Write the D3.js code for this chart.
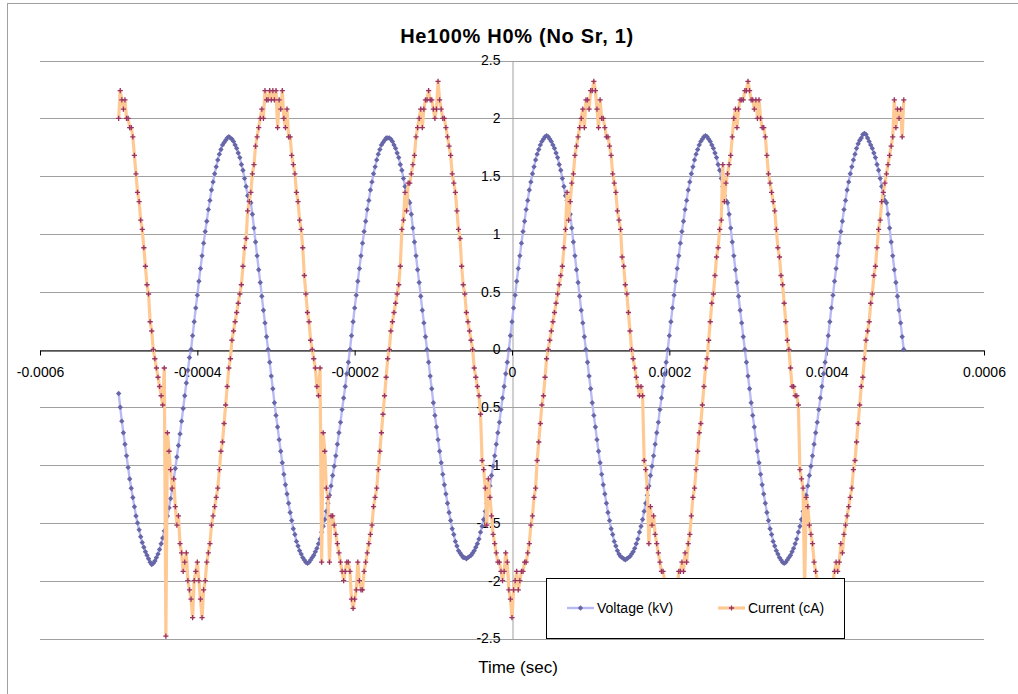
<!DOCTYPE html>
<html>
<head>
<meta charset="utf-8">
<script src="https://cdn.jsdelivr.net/npm/d3@7"></script>
<style>
  body { margin: 0; background: #fff; }
  text { font-family: Arial, "Liberation Sans", sans-serif; fill: #000; }
</style>
</head>
<body>
<svg id="chart" width="1018" height="694"></svg>
<script>
const chartTitle = 'He100% H0% (No Sr, 1)'
const xTitle = 'Time (sec)'
const seriesNames = ['Voltage (kV)', 'Current (cA)']

const xTicks = [-0.0006, -0.0004, -0.0002, 0, 0.0002, 0.0004, 0.0006]
const xTickLabels = ['-0.0006', '-0.0004', '-0.0002', '0', '0.0002', '0.0004', '0.0006']
const yTicks = [2.5, 2, 1.5, 1, 0.5, 0, -0.5, -1, -1.5, -2, -2.5]
const yTickLabels = ['2.5', '2', '1.5', '1', '0.5', '0', '-0.5', '-1', '-1.5', '-2', '-2.5']

// scope samples: first sample time and sample interval (sec)
const tStart = -0.0005
const tStep = 0.000002

// Voltage (kV), one value per sample
const voltage = [
  -0.38, -0.50, -0.62, -0.72, -0.82, -0.92, -1.02, -1.12, -1.20, -1.28,
  -1.36, -1.44, -1.50, -1.56, -1.62, -1.67, -1.71, -1.75, -1.78, -1.81,
  -1.84, -1.86, -1.85, -1.83, -1.80, -1.77, -1.73, -1.68, -1.63, -1.57,
  -1.51, -1.44, -1.37, -1.29, -1.21, -1.12, -1.03, -0.93, -0.83, -0.73,
  -0.62, -0.51, -0.40, -0.29, -0.18, -0.07,
  // cycle 1
  0.00, 0.12, 0.24, 0.36, 0.47, 0.59, 0.70, 0.81, 0.92, 1.02,
  1.11, 1.21, 1.29, 1.38, 1.45, 1.52, 1.58, 1.64, 1.69, 1.73,
  1.77, 1.79, 1.81, 1.83, 1.84, 1.83, 1.82, 1.80, 1.77, 1.74,
  1.70, 1.66, 1.60, 1.55, 1.48, 1.41, 1.33, 1.29, 1.27, 1.17,
  1.05, 0.93, 0.81, 0.69, 0.58, 0.46, 0.34, 0.23, 0.11, 0.00,
  -0.11, -0.23, -0.34, -0.46, -0.57, -0.67, -0.78, -0.88, -0.98, -1.08,
  -1.17, -1.25, -1.33, -1.41, -1.48, -1.55, -1.60, -1.66, -1.70, -1.74,
  -1.77, -1.80, -1.82, -1.84, -1.85, -1.84, -1.82, -1.80, -1.78, -1.75,
  -1.72, -1.68, -1.64, -1.58, -1.53, -1.47, -1.40, -1.33, -1.26, -1.18,
  -1.09, -1.01, -0.92, -0.82, -0.72, -0.63, -0.52, -0.42, -0.32, -0.21,
  -0.11,
  // cycle 2
  0.00, 0.12, 0.24, 0.36, 0.47, 0.59, 0.70, 0.81, 0.92, 1.02,
  1.11, 1.21, 1.29, 1.38, 1.45, 1.52, 1.58, 1.64, 1.69, 1.73,
  1.77, 1.79, 1.81, 1.83, 1.83, 1.83, 1.82, 1.80, 1.77, 1.74,
  1.70, 1.66, 1.60, 1.55, 1.48, 1.41, 1.33, 1.29, 1.27, 1.17,
  1.05, 0.93, 0.81, 0.69, 0.58, 0.46, 0.34, 0.23, 0.11, 0.00,
  -0.11, -0.23, -0.34, -0.46, -0.57, -0.67, -0.78, -0.88, -0.98, -1.08,
  -1.17, -1.25, -1.33, -1.41, -1.48, -1.55, -1.60, -1.66, -1.70, -1.74,
  -1.76, -1.78, -1.80, -1.80, -1.81, -1.80, -1.79, -1.78, -1.76, -1.74,
  -1.71, -1.68, -1.64, -1.58, -1.53, -1.47, -1.40, -1.33, -1.26, -1.18,
  -1.09, -1.01, -0.92, -0.82, -0.72, -0.63, -0.52, -0.42, -0.32, -0.21,
  -0.11,
  // cycle 3
  0.00, 0.12, 0.24, 0.36, 0.47, 0.59, 0.70, 0.81, 0.92, 1.02,
  1.11, 1.21, 1.29, 1.38, 1.45, 1.52, 1.58, 1.64, 1.69, 1.73,
  1.77, 1.80, 1.82, 1.84, 1.85, 1.84, 1.82, 1.80, 1.77, 1.74,
  1.70, 1.66, 1.60, 1.55, 1.48, 1.41, 1.33, 1.29, 1.27, 1.17,
  1.05, 0.93, 0.81, 0.69, 0.58, 0.46, 0.34, 0.23, 0.11, 0.00,
  -0.11, -0.23, -0.34, -0.46, -0.57, -0.67, -0.78, -0.88, -0.98, -1.08,
  -1.17, -1.25, -1.33, -1.41, -1.48, -1.55, -1.60, -1.66, -1.70, -1.74,
  -1.77, -1.79, -1.80, -1.81, -1.82, -1.81, -1.80, -1.79, -1.77, -1.75,
  -1.72, -1.68, -1.64, -1.58, -1.53, -1.47, -1.40, -1.33, -1.26, -1.18,
  -1.09, -1.01, -0.92, -0.82, -0.72, -0.63, -0.52, -0.42, -0.32, -0.21,
  -0.11,
  // cycle 4
  0.00, 0.12, 0.24, 0.36, 0.47, 0.59, 0.70, 0.81, 0.92, 1.02,
  1.11, 1.21, 1.29, 1.38, 1.45, 1.52, 1.58, 1.64, 1.69, 1.73,
  1.77, 1.80, 1.82, 1.84, 1.85, 1.84, 1.82, 1.80, 1.77, 1.74,
  1.70, 1.66, 1.60, 1.55, 1.48, 1.41, 1.33, 1.29, 1.27, 1.17,
  1.05, 0.93, 0.81, 0.69, 0.58, 0.46, 0.34, 0.23, 0.11, 0.00,
  -0.11, -0.23, -0.34, -0.46, -0.57, -0.67, -0.78, -0.88, -0.98, -1.08,
  -1.17, -1.25, -1.33, -1.41, -1.48, -1.55, -1.60, -1.66, -1.70, -1.74,
  -1.77, -1.80, -1.82, -1.84, -1.85, -1.84, -1.82, -1.80, -1.78, -1.75,
  -1.72, -1.68, -1.64, -1.58, -1.53, -1.47, -1.40, -1.33, -1.26, -1.18,
  -1.09, -1.01, -0.92, -0.82, -0.72, -0.63, -0.52, -0.42, -0.32, -0.21,
  -0.11,
  // last half cycle
  0.00, 0.12, 0.24, 0.36, 0.47, 0.59, 0.70, 0.81, 0.92, 1.02,
  1.11, 1.21, 1.29, 1.38, 1.45, 1.52, 1.58, 1.64, 1.69, 1.74,
  1.78, 1.81, 1.83, 1.86, 1.87, 1.86, 1.83, 1.80, 1.77, 1.74,
  1.70, 1.66, 1.60, 1.55, 1.48, 1.41, 1.33, 1.29, 1.27, 1.17,
  1.05, 0.93, 0.81, 0.69, 0.58, 0.46, 0.34, 0.23, 0.11, 0.00
]

// Current (cA), one value per sample (scope steps of 0.08)
const current = [
  2.00, 2.24, 2.16, 2.08, 2.16, 2.00, 2.00, 1.92, 1.92, 1.84,
  1.68, 1.52, 1.36, 1.28, 1.12, 1.04, 0.88, 0.72, 0.56, 0.48,
  0.24, 0.16, 0.00, -0.08, -0.16, -0.24, -0.32, -0.40, -0.48, -0.16,
  -2.48, -0.72, -0.88, -1.04, -1.20, -1.12, -1.36, -1.52, -1.44, -1.68,
  -1.76, -1.92, -1.84, -1.76, -2.00, -2.08, -2.16, -2.32, -2.00, -1.92,
  -1.84, -2.00, -2.16, -2.32, -2.08, -2.00, -1.84, -1.76, -1.68, -1.52,
  -1.44, -1.36, -1.28, -1.20, -1.04, -0.88, -0.80, -0.64, -0.48, -0.32,
  -0.16, -0.08,
  // cycle 1
  0.08, 0.16, 0.24, 0.32, 0.40, 0.48, 0.56, 0.72, 0.88, 0.96,
  1.20, 1.28, 1.36, 1.52, 1.60, 1.76, 1.84, 1.92, 2.00, 2.08,
  2.00, 2.24, 2.16, 2.16, 2.24, 2.16, 2.24, 2.16, 2.24, 1.92,
  2.16, 2.08, 2.24, 2.00, 1.92, 2.08, 1.84, 1.84, 1.68, 1.60,
  1.52, 1.36, 1.28, 1.12, 1.04, 0.88, 0.64, 0.48, 0.32, 0.24,
  0.08,
  0.00, -0.08, -0.16, -0.32, -0.40, -0.16, -1.84, -0.72, -0.88, -1.20,
  -1.28, -1.84, -1.44, -1.44, -1.52, -1.60, -1.68, -1.76, -1.84, -1.92,
  -2.00, -1.92, -1.84, -1.84, -1.92, -2.16, -2.24, -2.16, -2.08, -1.84,
  -2.00, -2.08, -2.08, -1.92, -1.84, -1.76, -1.68, -1.60, -1.52, -1.36,
  -1.28, -1.20, -1.04, -0.88, -0.72, -0.56, -0.40, -0.24, -0.08, 0.00,
  // cycle 2
  0.16, 0.24, 0.32, 0.40, 0.48, 0.56, 0.72, 1.04, 1.12, 1.36,
  1.20, 1.44, 1.44, 1.52, 1.60, 1.68, 1.84, 1.92, 2.00, 2.08,
  1.92, 2.08, 2.16, 2.16, 2.24, 2.16, 2.16, 2.08, 2.00, 2.08,
  2.32, 2.16, 2.08, 2.00, 2.00, 1.92, 1.84, 1.76, 1.68, 1.52,
  1.44, 1.36, 1.20, 1.04, 0.96, 0.72, 0.56, 0.48, 0.32, 0.24,
  0.16,
  0.08, 0.00, -0.16, -0.24, -0.32, -0.40, -0.56, -0.96, -1.04, -1.20,
  -1.52, -1.12, -1.28, -1.44, -1.60, -1.68, -1.76, -1.84, -1.84, -1.92,
  -2.00, -1.92, -1.76, -1.84, -2.08, -2.16, -2.32, -2.08, -2.00, -1.92,
  -2.08, -2.00, -1.92, -1.92, -1.84, -1.84, -1.76, -1.68, -1.52, -1.44,
  -1.28, -1.20, -0.96, -0.80, -0.64, -0.48, -0.40, -0.24, -0.08, 0.00,
  // cycle 3
  0.08, 0.16, 0.24, 0.32, 0.40, 0.48, 0.56, 0.64, 0.72, 0.88,
  1.04, 1.36, 1.12, 1.28, 1.44, 1.52, 1.68, 1.76, 1.84, 1.92,
  2.00, 2.08, 1.92, 2.16, 2.16, 2.08, 2.24, 2.24, 2.32, 2.24,
  2.08, 1.92, 2.16, 2.00, 2.00, 1.92, 1.84, 1.84, 1.76, 1.68,
  1.52, 1.44, 1.36, 1.20, 1.12, 1.04, 0.80, 0.72, 0.56, 0.48,
  0.32, 0.16,
  0.00, -0.08, -0.16, -0.24, -0.32, -0.40, -0.32, -0.40, -0.96, -1.04,
  -1.20, -1.68, -1.36, -1.52, -1.44, -1.60, -1.68, -1.76, -1.84, -1.92,
  -1.92, -2.00, -2.08, -2.16, -2.24, -2.16, -2.08, -2.16, -2.00, -2.08,
  -1.92, -1.92, -1.84, -1.92, -1.76, -1.84, -1.68, -1.60, -1.44, -1.28,
  -1.20, -1.04, -0.88, -0.72, -0.64, -0.48, -0.32, -0.16, -0.08,
  // cycle 4
  0.08, 0.24, 0.40, 0.48, 0.64, 0.80, 0.88, 1.04, 1.12, 1.60,
  1.28, 1.44, 1.52, 1.60, 1.68, 1.84, 2.00, 2.08, 1.92, 2.08,
  2.16, 2.16, 2.16, 2.24, 2.24, 2.32, 2.24, 2.16, 2.16, 2.08,
  2.16, 2.00, 2.16, 2.00, 1.92, 1.92, 1.84, 1.68, 1.52, 1.44,
  1.36, 1.28, 1.20, 1.04, 0.88, 0.80, 0.64, 0.56, 0.40, 0.24,
  0.08,
  0.00, -0.16, -0.32, -0.32, -0.40, -0.40, -0.48, -1.04, -1.12, -1.20,
  -2.08, -1.28, -1.36, -1.52, -1.60, -1.68, -1.84, -1.92, -2.00, -2.08,
  -2.16, -2.08, -2.24, -2.16, -2.08, -2.16, -2.00, -2.08, -2.00, -1.92,
  -1.84, -1.92, -1.84, -1.68, -1.76, -1.60, -1.52, -1.44, -1.36, -1.28,
  -1.20, -1.04, -0.96, -0.80, -0.64, -0.48, -0.32, -0.24, -0.08,
  // last rise
  0.08, 0.16, 0.24, 0.40, 0.48, 0.64, 0.72, 0.88, 1.04, 1.12,
  1.28, 1.36, 1.44, 1.52, 1.60, 1.68, 1.76, 1.84, 2.16, 1.92,
  2.08, 2.00, 2.08, 1.84, 2.16
]

const svg = d3.select('#chart')

const x = d3.scaleLinear().domain([-0.0006, 0.0006]).range([40, 984])
const y = d3.scaleLinear().domain([-2.5, 2.5]).range([638.5, 60.5])

// chart area border
svg.append('rect')
  .attr('x', 7.5).attr('y', 3.5)
  .attr('width', 1200).attr('height', 1000)
  .attr('fill', '#fff')
  .attr('stroke', '#a0a0a0')

svg.append('text')
  .attr('x', 517).attr('y', 43)
  .attr('text-anchor', 'middle')
  .style('font-size', '20px')
  .style('font-weight', 'bold')
  .style('letter-spacing', '0.7px')
  .text(chartTitle)

// horizontal gridlines
svg.append('g').selectAll('line')
  .data(yTicks)
  .enter().append('line')
  .attr('x1', 40).attr('x2', 984)
  .attr('y1', d => Math.round(y(d)) + 0.5)
  .attr('y2', d => Math.round(y(d)) + 0.5)
  .attr('stroke', '#a0a0a0')

// y axis (crosses at x = 0)
const yAxis = d3.axisLeft(y)
  .tickValues(yTicks)
  .tickSize(0)
  .tickPadding(12)
  .tickFormat((d, i) => yTickLabels[i])
const gy = svg.append('g')
  .attr('transform', 'translate(' + (Math.round(x(0)) + 0.5) + ',0)')
  .call(yAxis)
gy.select('.domain').attr('stroke', '#a0a0a0')
gy.selectAll('text').style('font-size', '14px').attr('font-family', null)

// x axis (crosses at y = 0)
const xAxis = d3.axisBottom(x)
  .tickValues(xTicks)
  .tickSize(5)
  .tickSizeOuter(0)
  .tickPadding(12)
  .tickFormat((d, i) => xTickLabels[i])
const gx = svg.append('g')
  .attr('transform', 'translate(0,' + (Math.round(y(0)) + 0.5) + ')')
  .call(xAxis)
gx.select('.domain').attr('stroke', '#000')
gx.selectAll('.tick line').attr('stroke', '#000')
gx.selectAll('text').style('font-size', '14px').attr('font-family', null)

svg.append('text')
  .attr('x', 518).attr('y', 673)
  .attr('text-anchor', 'middle')
  .style('font-size', '17px')
  .text(xTitle)

// data
svg.append('clipPath').attr('id', 'plot-clip')
  .append('rect').attr('x', 40).attr('y', 60).attr('width', 944).attr('height', 579)

const plot = svg.append('g').attr('clip-path', 'url(#plot-clip)')

const diamond = 'M0,-2.7L2.7,0L0,2.7L-2.7,0Z'
const plus = 'M-2.6,0H2.6M0,-2.6V2.6'

const series = [
  { name: seriesNames[0], values: voltage, line: '#b9b9f5', lineWidth: 2.4, marker: diamond, markerColor: '#6666a8', filled: true },
  { name: seriesNames[1], values: current, line: '#ffc994', lineWidth: 3.2, marker: plus, markerColor: '#993366', filled: false }
]

const line = d3.line()
  .x((d, i) => x(tStart + i * tStep))
  .y(d => y(d))

series.forEach(s => {
  plot.append('path')
    .datum(s.values)
    .attr('d', line)
    .attr('fill', 'none')
    .attr('stroke', s.line)
    .attr('stroke-width', s.lineWidth)
    .attr('stroke-linejoin', 'round')

  plot.append('g').selectAll('path')
    .data(s.values)
    .enter().append('path')
    .attr('transform', (d, i) => 'translate(' + x(tStart + i * tStep) + ',' + y(d) + ')')
    .attr('d', s.marker)
    .attr('fill', s.filled ? s.markerColor : 'none')
    .attr('stroke', s.filled ? 'none' : s.markerColor)
    .attr('stroke-width', 1.3)
})

// legend
const legend = svg.append('g')
legend.append('rect')
  .attr('x', 546.5).attr('y', 578.5)
  .attr('width', 298).attr('height', 60)
  .attr('fill', '#fff')
  .attr('stroke', '#000')

const legendX = [567, 718]
series.forEach((s, i) => {
  const lg = legend.append('g').attr('transform', 'translate(' + legendX[i] + ',608)')
  lg.append('line')
    .attr('x1', 0).attr('x2', 27)
    .attr('stroke', s.line)
    .attr('stroke-width', s.lineWidth)
  lg.append('path')
    .attr('transform', 'translate(13.5,0)')
    .attr('d', s.marker)
    .attr('fill', s.filled ? s.markerColor : 'none')
    .attr('stroke', s.filled ? 'none' : s.markerColor)
    .attr('stroke-width', 1.3)
  lg.append('text')
    .attr('x', 30).attr('dy', '0.35em')
    .style('font-size', '14px')
    .text(s.name)
})
</script>
</body>
</html>
